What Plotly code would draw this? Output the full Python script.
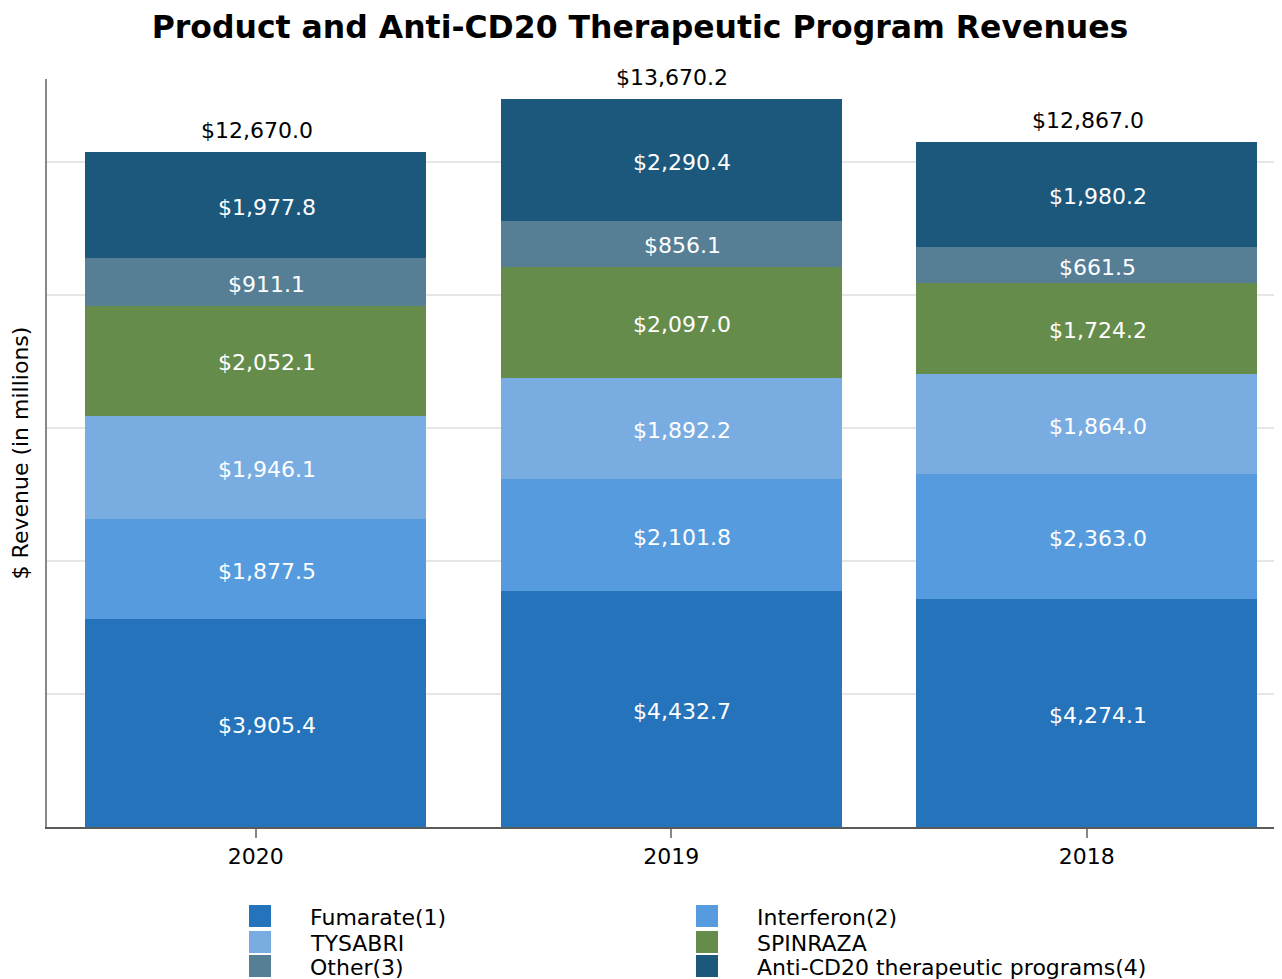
import plotly.graph_objects as go

# dati (milioni di $)
years = ["2020", "2019", "2018"]
series_names = ["Fumarate(1)", "Interferon(2)", "TYSABRI", "SPINRAZA",
                "Other(3)", "Anti-CD20 therapeutic programs(4)"]
fumarate = [3905.4, 4432.7, 4274.1]
interferon = [1877.5, 2101.8, 2363.0]
tysabri = [1946.1, 1892.2, 1864.0]
spinraza = [2052.1, 2097.0, 1724.2]
other = [911.1, 856.1, 661.5]
anti_cd20 = [1977.8, 2290.4, 1980.2]
totals = [12670.0, 13670.2, 12867.0]

colors = ["#2573ba", "#569bdd", "#79ade2", "#668c4c", "#567f96", "#1c587b"]
series = [fumarate, interferon, tysabri, spinraza, other, anti_cd20]

OFF = 8  # margine della pagina html
W, H = 1282 - OFF, 979 - OFF
ML, MR, MT, MB = 39, 0, 71, 152
FONT = "DejaVu Sans"
UNIT = 415.5  # pixel per categoria

fig = go.Figure()
base = [0.0] * len(years)
for name, vals, col in zip(series_names, series, colors):
    fig.add_trace(go.Bar(x=years, y=vals, name=name, marker_color=col,
                         marker_line_width=0, showlegend=False))
    # etichette dei segmenti (leggermente spostate a destra come nell'originale)
    for i, v in enumerate(vals):
        fig.add_annotation(x=i, y=base[i] + v / 2, xref="x", yref="y",
                           text=f"${v:,.1f}", showarrow=False, xshift=11, yshift=-2,
                           font=dict(size=22, color="white", family=FONT))
        base[i] += v

# totali sopra le barre (x = indice della categoria)
for i, tot in enumerate(totals):
    fig.add_annotation(x=i, y=tot, xref="x", yref="y", text=f"${tot:,.1f}",
                       showarrow=False, yanchor="bottom", yshift=7, xshift=1,
                       font=dict(size=22, color="black", family=FONT))

# legenda disegnata a mano (due colonne), posizioni in pixel della pagina
pw, ph = W - ML - MR, H - MT - MB
def px_x(p):
    return (p - OFF - ML) / pw
def px_y(p):
    return (H - MB - (p - OFF)) / ph

col_x = [249, 696]
row_y = [916, 942, 966]
for i, (name, col) in enumerate(zip(series_names, colors)):
    cx, cy = col_x[i % 2], row_y[i // 2]
    fig.add_shape(type="rect", xref="paper", yref="paper",
                  x0=px_x(cx), x1=px_x(cx + 22), y0=px_y(cy - 11), y1=px_y(cy + 11),
                  fillcolor=col, line_width=0)
    fig.add_annotation(xref="paper", yref="paper", x=px_x(cx + 59), y=px_y(cy + 1),
                       text=name, showarrow=False, xanchor="left", yanchor="middle",
                       font=dict(size=22, color="black", family=FONT))

x0 = -0.5024
fig.update_layout(
    width=W, height=H, barmode="stack", bargap=0.179,
    template="plotly_white", plot_bgcolor="white", paper_bgcolor="white",
    font=dict(family=FONT, size=22, color="black"),
    title=dict(text="<b>Product and Anti-CD20 Therapeutic Program Revenues</b>",
               x=(640 - OFF) / W, xanchor="center", y=1 - (27 - OFF) / H, yanchor="middle",
               font=dict(size=31.5, family=FONT, color="black")),
    margin=dict(l=ML, r=MR, t=MT, b=MB),
    showlegend=False,
)
fig.update_xaxes(type="category", range=[x0, x0 + pw / UNIT], showline=True, linecolor="#5a5a5a",
                 linewidth=2, ticks="outside", tickcolor="#888", tickwidth=2, ticklen=9,
                 showgrid=False, tickfont=dict(size=22, family=FONT))
fig.update_yaxes(range=[0, 14050], showline=True, linecolor="#888", linewidth=2,
                 showticklabels=False, ticks="", dtick=2500, gridcolor="#e6e6e6",
                 gridwidth=2, zeroline=False,
                 title=dict(text="$ Revenue (in millions)", font=dict(size=22, family=FONT)))

fig.write_html("out.html")
